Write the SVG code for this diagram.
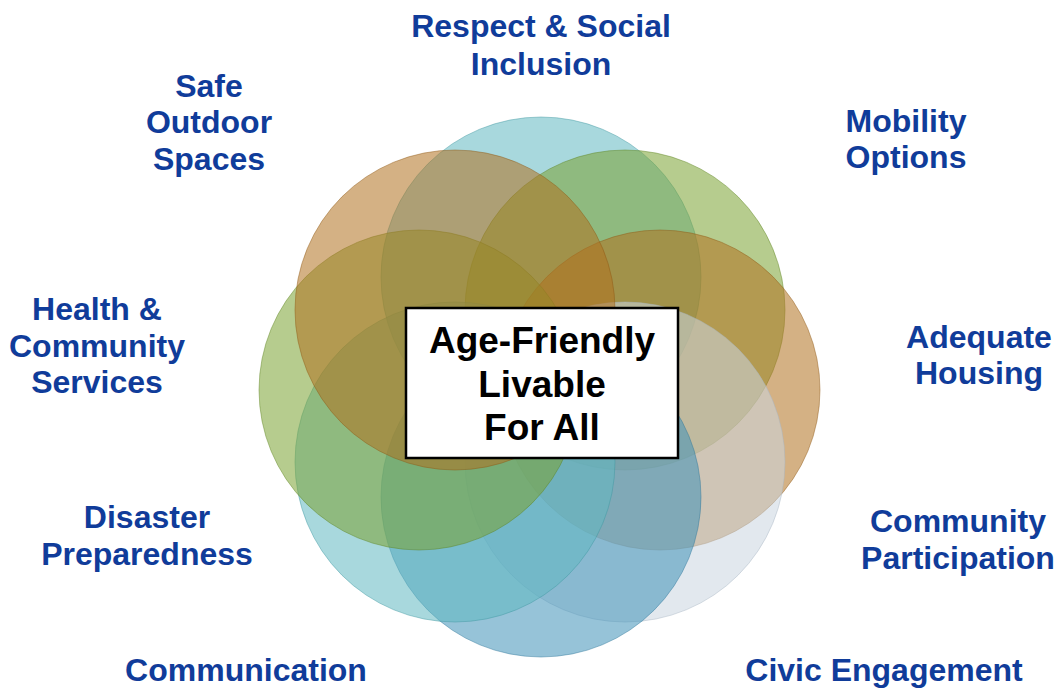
<svg xmlns="http://www.w3.org/2000/svg" width="1060" height="688" viewBox="0 0 1060 688">
<style>
.c{fill-opacity:0.55;stroke-width:1;stroke-opacity:0.45}
.teal{fill:#61B8C1;stroke:#3E97A0}
.green{fill:#7AA232;stroke:#5E8220}
.brown{fill:#B1711F;stroke:#8E5712}
.gray{fill:#CAD5E0;stroke:#A9B6C3}
.blue{fill:#4092B8;stroke:#2D7598}
.lbl{font-family:"Liberation Sans",Arial,sans-serif;font-weight:bold;font-size:32px;fill:#103C9A;text-anchor:middle}
.ctr{font-family:"Liberation Sans",Arial,sans-serif;font-weight:bold;font-size:37px;fill:#000;text-anchor:middle}
</style>
<rect width="1060" height="688" fill="#fff"/>
<g id="circles">
<circle id="c-respect" class="c teal" cx="541" cy="277" r="160"/>
<circle id="c-mobility" class="c green" cx="625" cy="310" r="160"/>
<circle id="c-housing" class="c brown" cx="660" cy="390" r="160"/>
<circle id="c-participation" class="c gray" cx="625" cy="462" r="160"/>
<circle id="c-civic" class="c blue" cx="541" cy="497" r="160"/>
<circle id="c-communication" class="c teal" cx="455" cy="462" r="160"/>
<circle id="c-health" class="c green" cx="419" cy="390" r="160"/>
<circle id="c-outdoor" class="c brown" cx="455" cy="310" r="160"/>
</g>
<g id="center">
<rect x="406" y="308" width="272" height="150" fill="#fff" stroke="#000" stroke-width="2.5"/>
<text class="ctr" x="542" y="353">Age-Friendly</text>
<text class="ctr" x="542" y="397">Livable</text>
<text class="ctr" x="542" y="440">For All</text>
</g>
<g id="label-respect"><text class="lbl" x="541" y="37">Respect &amp; Social</text><text class="lbl" x="541" y="75">Inclusion</text></g>
<g id="label-outdoor"><text class="lbl" x="209" y="97">Safe</text><text class="lbl" x="209" y="133">Outdoor</text><text class="lbl" x="209" y="170">Spaces</text></g>
<g id="label-mobility"><text class="lbl" x="906" y="132">Mobility</text><text class="lbl" x="906" y="168">Options</text></g>
<g id="label-health"><text class="lbl" x="97" y="320">Health &amp;</text><text class="lbl" x="97" y="357">Community</text><text class="lbl" x="97" y="393">Services</text></g>
<g id="label-housing"><text class="lbl" x="979" y="348">Adequate</text><text class="lbl" x="979" y="384">Housing</text></g>
<g id="label-disaster"><text class="lbl" x="147" y="528">Disaster</text><text class="lbl" x="147" y="565">Preparedness</text></g>
<g id="label-participation"><text class="lbl" x="958" y="532">Community</text><text class="lbl" x="958" y="569">Participation</text></g>
<g id="label-communication"><text class="lbl" x="246" y="681">Communication</text></g>
<g id="label-civic"><text class="lbl" x="884" y="681">Civic Engagement</text></g>
<g id="connectors"/>
</svg>
